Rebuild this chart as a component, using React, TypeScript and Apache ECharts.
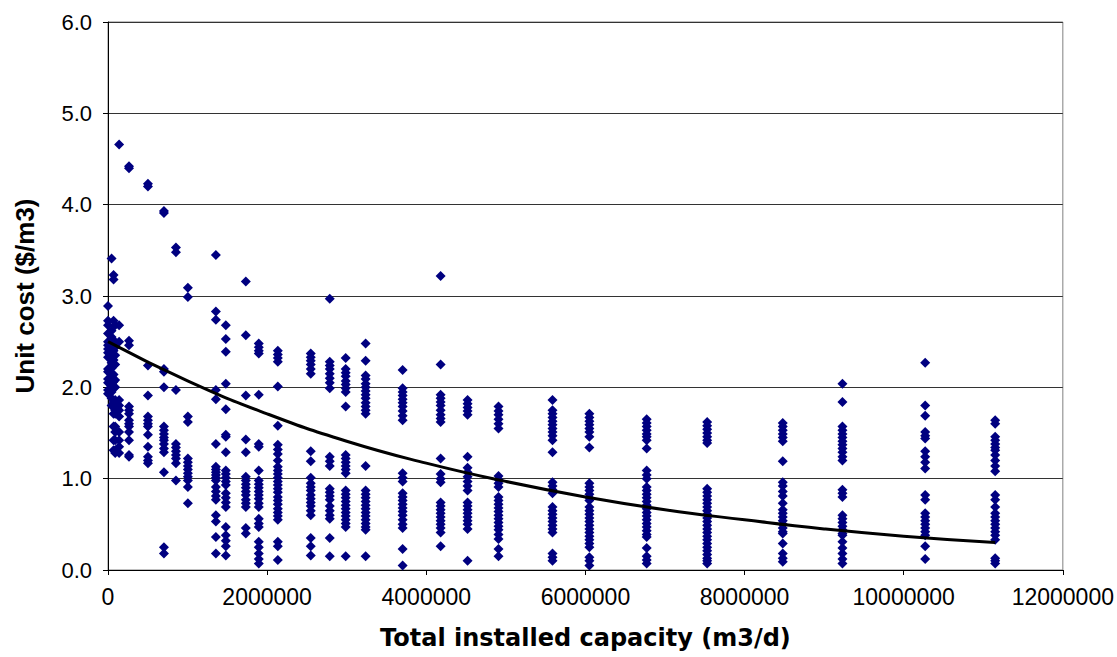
import React, { useEffect, useRef } from "react";
import * as echarts from "echarts";

// Total installed capacity (m3/d) for each group of plants
const capacityColumns: number[] = [
  0, 45000, 70000, 90000, 140000, 264000, 502000, 703000, 854000, 1004000,
  1356000, 1481000, 1732000, 1895000, 2134000, 2548000, 2787000, 2987000,
  3238000, 3703000, 4180000, 4519000, 4908000, 5586000, 6050000, 6770000,
  7530000, 8480000, 9230000, 10270000, 11150000,
];

// Unit cost ($/m3) read for each capacity column
const unitCostColumns: number[][] = [
  [2.89, 2.73, 2.68, 2.59, 2.5, 2.46, 2.42, 2.38, 2.33, 2.2, 2.17, 2.09, 2.05, 1.97, 1.93],
  [3.41, 2.62, 2.55, 2.44, 2.36, 2.27, 2.21, 2.12, 2.02, 1.95, 1.88, 1.8],
  [3.23, 3.18, 2.73, 2.48, 2.4, 2.3, 2.24, 2.14, 2.06, 1.99, 1.84, 1.78, 1.71, 1.57, 1.42, 1.31],
  [2.68, 2.5, 2.44, 2.35, 2.25, 2.08, 2.0, 1.86, 1.8, 1.75, 1.71, 1.57, 1.51, 1.42, 1.31, 1.28],
  [4.66, 2.68, 2.5, 1.86, 1.8, 1.75, 1.68, 1.51, 1.42, 1.35, 1.28],
  [4.42, 4.4, 2.51, 2.46, 1.79, 1.75, 1.71, 1.64, 1.6, 1.57, 1.51, 1.42, 1.26, 1.24],
  [4.23, 4.2, 2.24, 1.91, 1.68, 1.64, 1.6, 1.57, 1.48, 1.35, 1.24, 1.2, 1.17],
  [3.93, 3.91, 2.2, 2.17, 2.0, 1.57, 1.53, 1.49, 1.45, 1.42, 1.38, 1.33, 1.29, 1.07, 0.25, 0.18],
  [3.53, 3.48, 1.97, 1.38, 1.34, 1.3, 1.26, 1.22, 1.17, 0.98],
  [3.09, 2.99, 1.68, 1.62, 1.22, 1.18, 1.14, 1.1, 1.06, 1.02, 0.98, 0.91, 0.73],
  [3.45, 2.83, 2.74, 1.97, 1.87, 1.38, 1.13, 1.1, 1.07, 1.04, 1.01, 0.98, 0.91, 0.86, 0.81, 0.77, 0.6, 0.53, 0.36, 0.18],
  [2.68, 2.53, 2.39, 2.04, 1.76, 1.48, 1.46, 1.29, 1.09, 1.05, 1.01, 0.97, 0.93, 0.84, 0.79, 0.74, 0.69, 0.47, 0.38, 0.32, 0.26, 0.16],
  [3.16, 2.57, 1.91, 1.43, 1.29, 1.02, 0.98, 0.94, 0.9, 0.86, 0.82, 0.77, 0.73, 0.69, 0.46, 0.4],
  [2.48, 2.44, 2.4, 2.37, 1.92, 1.38, 1.35, 1.09, 0.98, 0.94, 0.9, 0.86, 0.82, 0.78, 0.73, 0.69, 0.56, 0.51, 0.47, 0.31, 0.25, 0.18, 0.12, 0.07],
  [2.4, 2.36, 2.32, 2.28, 2.01, 1.58, 1.37, 1.32, 1.27, 1.2, 1.13, 1.09, 1.05, 1.01, 0.97, 0.93, 0.89, 0.85, 0.8, 0.76, 0.72, 0.67, 0.63, 0.59, 0.55, 0.31, 0.26, 0.11],
  [2.37, 2.33, 2.29, 2.25, 2.2, 2.15, 1.3, 1.19, 1.01, 0.95, 0.91, 0.87, 0.82, 0.78, 0.74, 0.7, 0.65, 0.6, 0.35, 0.26, 0.16],
  [2.97, 2.28, 2.24, 2.2, 2.15, 2.1, 2.05, 1.99, 1.24, 1.19, 1.14, 0.89, 0.85, 0.81, 0.77, 0.7, 0.65, 0.6, 0.56, 0.35, 0.15],
  [2.32, 2.2, 2.16, 2.12, 2.07, 2.03, 1.99, 1.95, 1.79, 1.26, 1.22, 1.18, 1.14, 1.1, 1.06, 0.87, 0.83, 0.79, 0.75, 0.71, 0.67, 0.63, 0.59, 0.55, 0.51, 0.47, 0.15],
  [2.48, 2.29, 2.13, 2.09, 2.04, 2.0, 1.96, 1.92, 1.88, 1.83, 1.79, 1.75, 1.71, 1.14, 0.87, 0.83, 0.79, 0.75, 0.71, 0.67, 0.63, 0.59, 0.55, 0.51, 0.47, 0.44, 0.15],
  [2.19, 1.99, 1.95, 1.91, 1.87, 1.83, 1.79, 1.74, 1.69, 1.64, 1.06, 1.01, 0.97, 0.84, 0.8, 0.76, 0.72, 0.68, 0.64, 0.6, 0.55, 0.5, 0.46, 0.23, 0.05],
  [3.22, 2.25, 1.92, 1.88, 1.84, 1.8, 1.75, 1.7, 1.66, 1.62, 1.22, 1.05, 1.0, 0.96, 0.74, 0.7, 0.66, 0.62, 0.58, 0.54, 0.5, 0.46, 0.41, 0.26],
  [1.86, 1.82, 1.78, 1.74, 1.7, 1.24, 1.12, 1.07, 1.02, 0.97, 0.92, 0.87, 0.74, 0.7, 0.66, 0.62, 0.58, 0.54, 0.5, 0.45, 0.1],
  [1.79, 1.74, 1.7, 1.65, 1.6, 1.55, 1.03, 0.99, 0.95, 0.91, 0.8, 0.76, 0.72, 0.68, 0.64, 0.6, 0.56, 0.52, 0.48, 0.44, 0.39, 0.34, 0.23, 0.15],
  [1.86, 1.75, 1.71, 1.67, 1.63, 1.59, 1.55, 1.51, 1.47, 1.42, 1.29, 0.96, 0.92, 0.88, 0.84, 0.69, 0.65, 0.61, 0.57, 0.53, 0.49, 0.45, 0.41, 0.18, 0.14, 0.1],
  [1.71, 1.67, 1.63, 1.59, 1.55, 1.51, 1.46, 1.34, 0.95, 0.91, 0.87, 0.83, 0.79, 0.76, 0.69, 0.65, 0.61, 0.57, 0.53, 0.49, 0.45, 0.41, 0.37, 0.33, 0.29, 0.25, 0.14, 0.1, 0.05],
  [1.65, 1.61, 1.57, 1.53, 1.49, 1.46, 1.42, 1.33, 1.09, 1.04, 1.0, 0.91, 0.87, 0.83, 0.79, 0.75, 0.71, 0.67, 0.63, 0.59, 0.55, 0.51, 0.47, 0.43, 0.39, 0.36, 0.24, 0.15, 0.11, 0.07],
  [1.62, 1.58, 1.54, 1.5, 1.46, 1.42, 1.39, 0.89, 0.85, 0.81, 0.77, 0.73, 0.69, 0.65, 0.61, 0.57, 0.53, 0.49, 0.45, 0.41, 0.37, 0.33, 0.29, 0.25, 0.21, 0.17, 0.13, 0.1, 0.07],
  [1.61, 1.57, 1.53, 1.49, 1.45, 1.41, 1.19, 0.96, 0.92, 0.86, 0.81, 0.73, 0.66, 0.62, 0.58, 0.54, 0.5, 0.46, 0.42, 0.4, 0.29, 0.18, 0.13, 0.09],
  [2.04, 1.84, 1.57, 1.53, 1.49, 1.45, 1.41, 1.37, 1.33, 1.29, 1.24, 1.2, 0.88, 0.84, 0.8, 0.6, 0.56, 0.52, 0.48, 0.44, 0.4, 0.38, 0.31, 0.24, 0.18, 0.12, 0.07],
  [2.27, 1.8, 1.69, 1.51, 1.47, 1.44, 1.3, 1.24, 1.18, 1.11, 0.82, 0.77, 0.62, 0.58, 0.54, 0.5, 0.46, 0.42, 0.38, 0.26, 0.12],
  [1.64, 1.6, 1.46, 1.42, 1.38, 1.34, 1.31, 1.26, 1.2, 1.14, 1.08, 0.82, 0.77, 0.69, 0.62, 0.58, 0.54, 0.5, 0.46, 0.42, 0.38, 0.33, 0.13, 0.1, 0.07],
];

// Trend line points
const trendCapacity: number[] = [0, 1000000, 2000000, 3000000, 4000000, 5000000, 6000000, 7000000, 8000000, 9000000, 10000000, 11150000];
const trendCost: number[] = [2.5, 2.07, 1.71, 1.41, 1.17, 0.97, 0.8, 0.66, 0.55, 0.45, 0.37, 0.3];

const yTicks: number[] = [0, 1, 2, 3, 4, 5, 6];
const xTicks: number[] = [0, 2000000, 4000000, 6000000, 8000000, 10000000, 12000000];

export default function App() {
  const ref = useRef<HTMLDivElement>(null);

  useEffect(() => {
    document.body.style.margin = "0";
    if (!ref.current) return;
    const chart = echarts.init(ref.current, undefined, { renderer: "svg" });

    const scatterData: number[][] = [];
    capacityColumns.forEach((cap, i) => {
      unitCostColumns[i].forEach((v) => scatterData.push([cap, v]));
    });
    const trendData = trendCapacity.map((c, i) => [c, trendCost[i]]);

    chart.setOption({
      animation: false,
      backgroundColor: "#ffffff",
      grid: {
        left: 108,
        right: 53,
        top: 22,
        bottom: 87,
        show: true,
        borderColor: "#808080",
        borderWidth: 1,
      },
      xAxis: {
        type: "value",
        min: xTicks[0],
        max: xTicks[xTicks.length - 1],
        interval: xTicks[1] - xTicks[0],
        name: "Total installed capacity (m3/d)",
        nameLocation: "middle",
        nameGap: 56,
        nameTextStyle: {
          fontFamily: "DejaVu Sans",
          fontWeight: "bold",
          fontSize: 24,
          color: "#000",
        },
        axisLine: { show: true, lineStyle: { color: "#000", width: 1 } },
        axisTick: { show: true, length: 5, lineStyle: { color: "#000" } },
        splitLine: { show: false },
        axisLabel: {
          color: "#000",
          fontFamily: "Liberation Sans",
          fontSize: 23,
          margin: 15,
          formatter: (v: number) => String(v),
        },
      },
      yAxis: {
        type: "value",
        min: yTicks[0],
        max: yTicks[yTicks.length - 1],
        interval: 1,
        name: "Unit cost ($/m3)",
        nameLocation: "middle",
        nameGap: 70,
        nameTextStyle: {
          fontFamily: "Liberation Sans",
          fontWeight: "bold",
          fontSize: 26,
          color: "#000",
        },
        axisLine: { show: true, lineStyle: { color: "#000", width: 1 } },
        axisTick: { show: true, length: 5, lineStyle: { color: "#000" } },
        splitLine: { show: true, lineStyle: { color: "#333", width: 1 } },
        axisLabel: {
          color: "#000",
          fontFamily: "Liberation Sans",
          fontSize: 22,
          margin: 16,
          formatter: (v: number) => v.toFixed(1),
        },
      },
      series: [
        {
          type: "scatter",
          data: scatterData,
          symbol: "diamond",
          symbolSize: 10,
          itemStyle: { color: "#000080", opacity: 1 },
          z: 2,
        },
        {
          type: "line",
          data: trendData,
          smooth: true,
          showSymbol: false,
          symbol: "none",
          lineStyle: { color: "#000", width: 3 },
          z: 3,
        },
      ],
    });

    return () => chart.dispose();
  }, []);

  return <div ref={ref} style={{ width: 1117, height: 657 }} />;
}
